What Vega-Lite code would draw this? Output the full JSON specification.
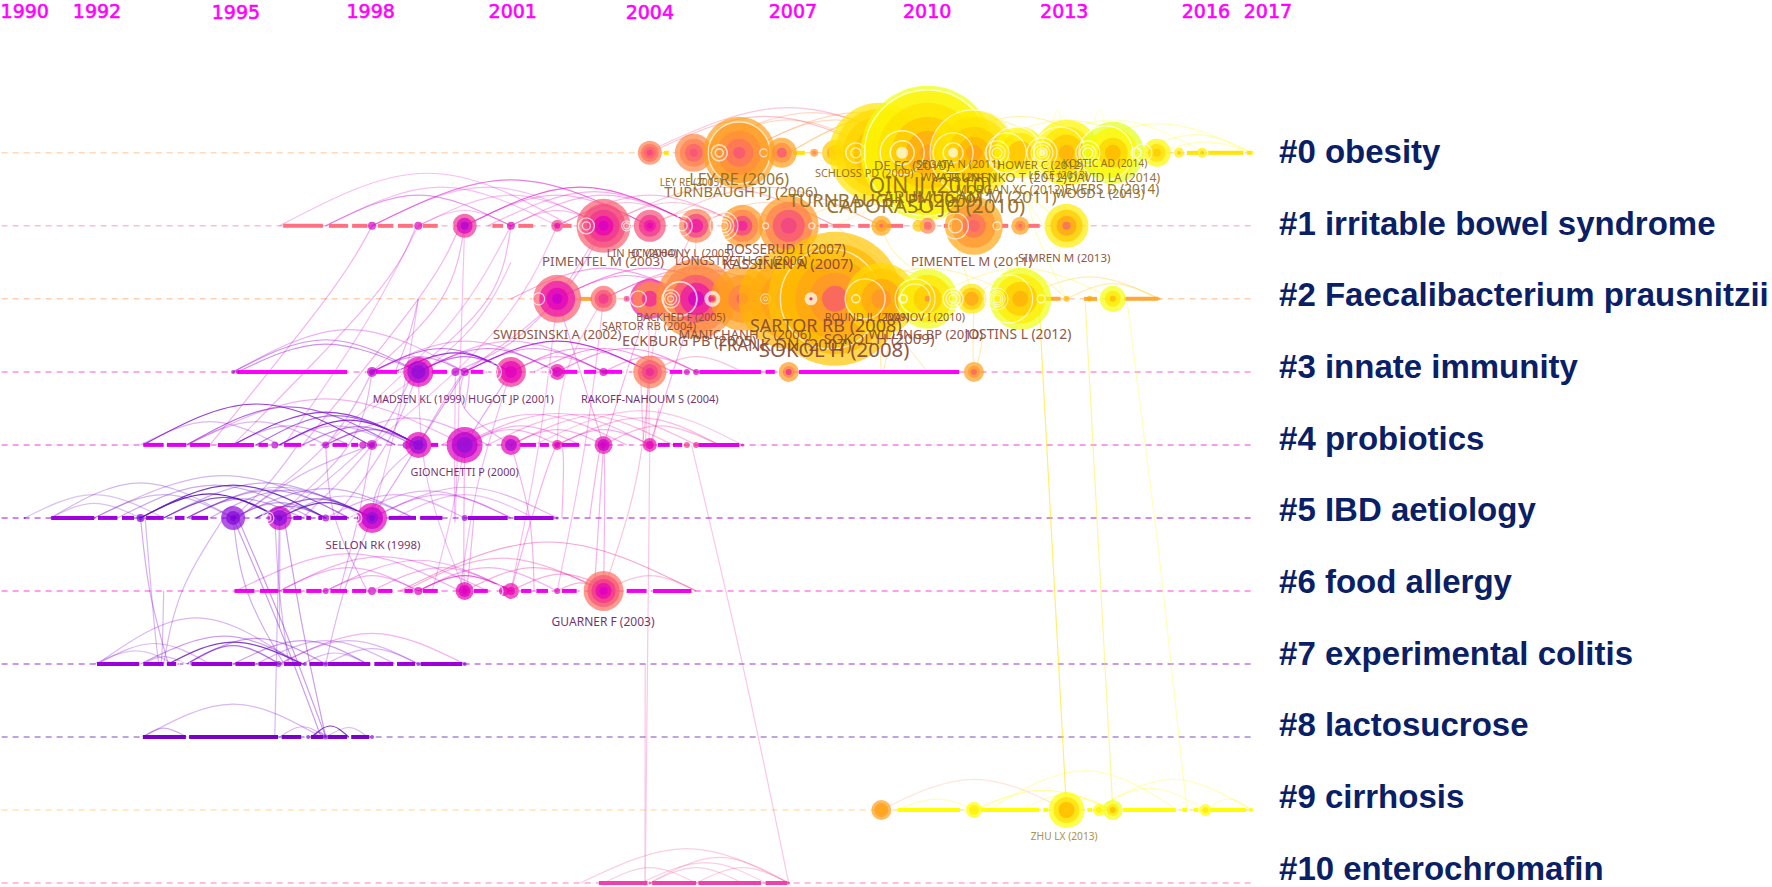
{"$schema":"https://vega.github.io/schema/vega-lite/v6.json","width":1772,"height":887,"padding":0,"autosize":{"type":"fit","contains":"padding"},"background":"#ffffff","config":{"view":{"stroke":null}},
"datasets":{
"lanes":[{"c":0,"x":1990,"x2":2017},{"c":1,"x":1990,"x2":2017},{"c":2,"x":1990,"x2":2017},{"c":3,"x":1990,"x2":2017},{"c":4,"x":1990,"x2":2017},{"c":5,"x":1990,"x2":2017},{"c":6,"x":1990,"x2":2017},{"c":7,"x":1990,"x2":2017},{"c":8,"x":1990,"x2":2017},{"c":9,"x":1990,"x2":2017},{"c":10,"x":1990,"x2":2017}],
"segs":[
{"c":0,"x":2004.3,"x2":2004.42},{"c":0,"x":2007.1,"x2":2007.35},{"c":0,"x":2015.6,"x2":2015.85},{"c":0,"x":2016.06,"x2":2016.82},{"c":0,"x":2016.9,"x2":2017},
{"c":1,"x":1996.08,"x2":1996.94},{"c":1,"x":1997.07,"x2":1997.48},{"c":1,"x":1997.57,"x2":1997.9},{"c":1,"x":1998.13,"x2":1998.46},{"c":1,"x":1998.56,"x2":1998.88},{"c":1,"x":1999.1,"x2":1999.42},{"c":1,"x":2000.6,"x2":2000.83},{"c":1,"x":2001.16,"x2":2001.48},{"c":1,"x":2002.12,"x2":2002.31},{"c":1,"x":2007.67,"x2":2007.85},{"c":1,"x":2007.95,"x2":2008.33},{"c":1,"x":2008.5,"x2":2008.75},{"c":1,"x":2009.12,"x2":2009.47},{"c":1,"x":2010.35,"x2":2010.45},{"c":1,"x":2011.56,"x2":2011.74},{"c":1,"x":2012.17,"x2":2012.42},
{"c":2,"x":2002.5,"x2":2002.75},{"c":2,"x":2012.08,"x2":2012.87},{"c":2,"x":2013.38,"x2":2013.66},{"c":2,"x":2014.25,"x2":2014.98},
{"c":3,"x":1995.1,"x2":1997.46},{"c":3,"x":1998.08,"x2":1998.54},{"c":3,"x":1999.3,"x2":1999.62},{"c":3,"x":2000.13,"x2":2000.42},{"c":3,"x":2002.1,"x2":2002.43},{"c":3,"x":2002.58,"x2":2002.84},{"c":3,"x":2003.03,"x2":2003.4},{"c":3,"x":2004.43,"x2":2004.7},{"c":3,"x":2005.07,"x2":2006.4},{"c":3,"x":2006.5,"x2":2006.7},{"c":3,"x":2007.22,"x2":2010.68},
{"c":4,"x":1993.06,"x2":1993.5},{"c":4,"x":1993.57,"x2":1993.99},{"c":4,"x":1994.07,"x2":1994.5},{"c":4,"x":1994.67,"x2":1995.45},{"c":4,"x":1995.55,"x2":1995.75},{"c":4,"x":1996.1,"x2":1996.47},{"c":4,"x":1997.15,"x2":1997.46},{"c":4,"x":1997.55,"x2":1997.7},{"c":4,"x":1999.27,"x2":1999.43},{"c":4,"x":2001.2,"x2":2001.54},{"c":4,"x":2001.62,"x2":2001.82},{"c":4,"x":2002.1,"x2":2002.47},{"c":4,"x":2004.17,"x2":2004.43},{"c":4,"x":2004.5,"x2":2004.7},{"c":4,"x":2005.05,"x2":2005.93},
{"c":5,"x":1991.07,"x2":1992},{"c":5,"x":1992.08,"x2":1992.5},{"c":5,"x":1992.6,"x2":1992.86},{"c":5,"x":1993.12,"x2":1993.5},{"c":5,"x":1993.74,"x2":1993.95},{"c":5,"x":1994.1,"x2":1994.46},{"c":5,"x":1996.3,"x2":1996.48},{"c":5,"x":1996.58,"x2":1996.68},{"c":5,"x":1996.84,"x2":1996.92},{"c":5,"x":1997.1,"x2":1997.46},{"c":5,"x":1998.36,"x2":1998.95},{"c":5,"x":1999.04,"x2":1999.52},{"c":5,"x":2000.07,"x2":2000.93},{"c":5,"x":2001.07,"x2":2001.92},
{"c":6,"x":1995.03,"x2":1995.46},{"c":6,"x":1995.58,"x2":1995.98},{"c":6,"x":1996.08,"x2":1996.47},{"c":6,"x":1996.58,"x2":1996.91},{"c":6,"x":1997.1,"x2":1997.46},{"c":6,"x":1997.57,"x2":1997.87},{"c":6,"x":1998.13,"x2":1998.44},{"c":6,"x":1998.7,"x2":1998.88},{"c":6,"x":1999.1,"x2":1999.42},{"c":6,"x":2000.2,"x2":2000.5},{"c":6,"x":2001.22,"x2":2001.44},{"c":6,"x":2001.55,"x2":2001.8},{"c":6,"x":2002.1,"x2":2002.42},{"c":6,"x":2003.5,"x2":2003.93},{"c":6,"x":2004.07,"x2":2004.9},
{"c":7,"x":1992.06,"x2":1992.97},{"c":7,"x":1993.06,"x2":1993.5},{"c":7,"x":1993.57,"x2":1993.77},{"c":7,"x":1994.1,"x2":1994.98},{"c":7,"x":1995.05,"x2":1995.47},{"c":7,"x":1995.55,"x2":1995.95},{"c":7,"x":1996.1,"x2":1996.47},{"c":7,"x":1996.65,"x2":1996.95},{"c":7,"x":1997.05,"x2":1997.96},{"c":7,"x":1998.05,"x2":1998.46},{"c":7,"x":1998.54,"x2":1998.93},{"c":7,"x":1999.05,"x2":1999.95},
{"c":8,"x":1993.05,"x2":1993.98},{"c":8,"x":1994.05,"x2":1995.97},{"c":8,"x":1996.05,"x2":1996.47},{"c":8,"x":1996.68,"x2":1996.95},{"c":8,"x":1997.05,"x2":1997.46},{"c":8,"x":1997.55,"x2":1997.94},
{"c":9,"x":2009.36,"x2":2010.7},{"c":9,"x":2011.15,"x2":2012.41},{"c":9,"x":2012.5,"x2":2012.6},{"c":9,"x":2013.45,"x2":2013.55},{"c":9,"x":2014.22,"x2":2015.36},{"c":9,"x":2015.5,"x2":2015.6},{"c":9,"x":2015.75,"x2":2015.85},{"c":9,"x":2016.1,"x2":2016.88},{"c":9,"x":2016.95,"x2":2017},
{"c":10,"x":2002.9,"x2":2003.95},{"c":10,"x":2004.05,"x2":2005},{"c":10,"x":2005.05,"x2":2006.4},{"c":10,"x":2006.5,"x2":2006.97}],
"arcs":[
{"a":1,"t":1993,"w":0.25,"x":[1990.5,1992,1993.5],"c":[5,4.68,5]},{"a":2,"t":1993,"w":0.3,"x":[1991.06,1993,1995],"c":[5,4.52,5]},{"a":3,"t":1993,"w":0.25,"x":[1991.06,1992,1993],"c":[5,4.8,5]},{"a":4,"t":1991,"w":0.9,"x":[1993,1994.5,1996],"c":[5,4.67,5]},{"a":5,"t":1991,"w":0.7,"x":[1993.5,1994.8,1996],"c":[5,4.72,5]},{"a":6,"t":1991,"w":0.8,"x":[1993,1995,1997],"c":[5,4.55,5]},{"a":7,"t":1993,"w":0.4,"x":[1994,1995.8,1997.5],"c":[5,4.62,5]},{"a":8,"t":1993,"w":0.35,"x":[1994.5,1996.2,1998],"c":[5,4.62,5]},{"a":9,"t":1993,"w":0.3,"x":[1992,1993.5,1995],"c":[5,4.68,5]},{"a":10,"t":1993,"w":0.35,"x":[1992.5,1994.6,1996.7],"c":[5,4.55,5]},{"a":11,"t":1993,"w":0.35,"x":[1993.5,1995.7,1997.9],"c":[5,4.52,5]},{"a":12,"t":1992,"w":0.6,"x":[1995.5,1996.8,1998],"c":[5,4.74,5]},{"a":13,"t":1991,"w":0.8,"x":[1996,1997,1998],"c":[5,4.79,5]},{"a":14,"t":1994,"w":0.35,"x":[1995,1997,1998.9],"c":[5,4.6,5]},{"a":15,"t":1994,"w":0.3,"x":[1996,1997.4,1998.9],"c":[5,4.7,5]},{"a":16,"t":1998,"w":0.3,"x":[1997,1998.5,2000],"c":[5,4.68,5]},{"a":17,"t":1998,"w":0.3,"x":[1998,2000,2002],"c":[5,4.58,5]},{"a":18,"t":1998,"w":0.3,"x":[1998,1999.5,2001],"c":[5,4.68,5]},{"a":19,"t":1998,"w":0.25,"x":[1998.5,2000,2001.5],"c":[5,4.68,5]},{"a":20,"t":1998,"w":0.3,"x":[1997.5,1999.2,2001],"c":[5,4.63,5]},{"a":21,"t":1993,"w":0.3,"x":[1994,1996,1998],"c":[5,4.58,5]},{"a":22,"t":1993,"w":0.3,"x":[1992,1994.8,1997.5],"c":[5,4.42,5]},{"a":23,"t":1993,"w":0.4,"x":[1994,1995.2,1996.5],"c":[5,4.74,5]},{"a":24,"t":1993,"w":0.4,"x":[1995,1996,1997],"c":[5,4.79,5]},{"a":25,"t":1992,"w":0.5,"x":[1995.5,1996.2,1997],"c":[5,4.84,5]},
{"a":30,"t":1994,"w":0.8,"x":[1993.06,1995.5,1997.95],"c":[4,3.44,4]},{"a":31,"t":1994,"w":0.6,"x":[1994,1996.2,1998.5],"c":[4,3.48,4]},{"a":32,"t":1994,"w":0.8,"x":[1995,1997,1999],"c":[4,3.55,4]},{"a":33,"t":1994,"w":0.6,"x":[1995.5,1997.2,1999],"c":[4,3.6,4]},{"a":34,"t":1994,"w":0.85,"x":[1996,1997.5,1999],"c":[4,3.66,4]},{"a":35,"t":1995,"w":0.5,"x":[1996.5,1997.7,1998.9],"c":[4,3.75,4]},{"a":36,"t":1995,"w":0.5,"x":[1997,1998,1999],"c":[4,3.79,4]},{"a":37,"t":1996,"w":0.3,"x":[1993,1994.5,1996],"c":[4,3.68,4]},{"a":38,"t":1996,"w":0.3,"x":[1994,1995.5,1997],"c":[4,3.68,4]},{"a":39,"t":1996,"w":0.3,"x":[1996,1997.2,1998.5],"c":[4,3.74,4]},{"a":40,"t":1996,"w":0.35,"x":[1995,1996.2,1997.5],"c":[4,3.74,4]},{"a":41,"t":1998,"w":0.3,"x":[1997,1998.8,2000.5],"c":[4,3.63,4]},{"a":42,"t":2001,"w":0.3,"x":[1999.5,2001.5,2003.5],"c":[4,3.58,4]},{"a":43,"t":2001,"w":0.3,"x":[1999.9,2002,2004],"c":[4,3.57,4]},{"a":44,"t":2002,"w":0.3,"x":[2000.5,2002.5,2004.5],"c":[4,3.58,4]},{"a":45,"t":2002,"w":0.3,"x":[2001,2003,2005],"c":[4,3.58,4]},{"a":46,"t":2002,"w":0.25,"x":[2001.5,2003.8,2006],"c":[4,3.53,4]},{"a":47,"t":2002,"w":0.3,"x":[2002,2003.8,2005.5],"c":[4,3.63,4]},{"a":48,"t":2002,"w":0.3,"x":[2003,2004.2,2005.5],"c":[4,3.74,4]},{"a":49,"t":2001,"w":0.3,"x":[2000,2001,2002],"c":[4,3.79,4]},{"a":50,"t":2001,"w":0.3,"x":[2000,2001.2,2002.5],"c":[4,3.74,4]},{"a":51,"t":2001,"w":0.3,"x":[2001,2002,2003],"c":[4,3.79,4]},{"a":52,"t":2001,"w":0.3,"x":[2002,2003,2004],"c":[4,3.79,4]},{"a":53,"t":2000,"w":0.3,"x":[1994,1997,2000],"c":[4,3.37,4]},
{"a":60,"t":1999,"w":0.3,"x":[1995,1997.5,2000],"c":[3,2.42,3]},{"a":61,"t":1997,"w":0.45,"x":[1995,1997,1999],"c":[3,2.56,3]},{"a":62,"t":1996,"w":0.45,"x":[1995.1,1997,1999],"c":[3,2.62,3]},{"a":63,"t":1998,"w":0.4,"x":[1998,1999,2000],"c":[3,2.79,3]},{"a":64,"t":1997,"w":0.6,"x":[1998,1999.5,2001],"c":[3,2.68,3]},{"a":65,"t":1996,"w":0.85,"x":[1998.5,1999.8,2001],"c":[3,2.74,3]},{"a":66,"t":1997,"w":0.6,"x":[1999,2000,2001],"c":[3,2.79,3]},{"a":67,"t":1998,"w":0.5,"x":[1999,2000.5,2002],"c":[3,2.68,3]},{"a":68,"t":1998,"w":0.4,"x":[2000,2001.5,2003],"c":[3,2.68,3]},{"a":69,"t":1998,"w":0.8,"x":[2000,2002,2004],"c":[3,2.58,3]},{"a":70,"t":2000,"w":0.4,"x":[2001,2002.5,2004],"c":[3,2.68,3]},{"a":71,"t":2001,"w":0.4,"x":[2001.5,2003,2004.5],"c":[3,2.68,3]},{"a":72,"t":2001,"w":0.4,"x":[2002,2003.5,2005],"c":[3,2.68,3]},{"a":73,"t":2002,"w":0.35,"x":[2003,2004,2005],"c":[3,2.79,3]},{"a":74,"t":2000,"w":0.3,"x":[1999,2001,2003],"c":[3,2.58,3]},{"a":75,"t":2000,"w":0.3,"x":[1998,2000,2002],"c":[3,2.58,3]},{"a":76,"t":2001,"w":0.3,"x":[2001,2002,2003],"c":[3,2.79,3]},{"a":77,"t":2003,"w":0.3,"x":[2004,2005,2006],"c":[3,2.79,3]},
{"a":80,"t":2000,"w":0.3,"x":[1995.05,1997.5,1999.9],"c":[6,5.49,6]},{"a":81,"t":2000,"w":0.3,"x":[1996,1998.2,2000.5],"c":[6,5.53,6]},{"a":82,"t":2000,"w":0.3,"x":[1997,1999,2001],"c":[6,5.58,6]},{"a":83,"t":2000,"w":0.3,"x":[1998,1999.5,2001],"c":[6,5.68,6]},{"a":84,"t":2000,"w":0.3,"x":[1999,2000.5,2002],"c":[6,5.68,6]},{"a":85,"t":2001,"w":0.6,"x":[1999,2000,2001],"c":[6,5.79,6]},{"a":86,"t":2002.6,"w":0.45,"x":[1998.6,2001.8,2005],"c":[6,5.33,6]},{"a":87,"t":2002.6,"w":0.35,"x":[1998.7,2000.8,2003],"c":[6,5.55,6]},{"a":88,"t":2002,"w":0.35,"x":[2000,2001.5,2003],"c":[6,5.68,6]},{"a":89,"t":2002,"w":0.35,"x":[2001,2002.1,2003.2],"c":[6,5.77,6]},{"a":90,"t":2002,"w":0.35,"x":[2002,2002.5,2003],"c":[6,5.89,6]},{"a":91,"t":2000,"w":0.3,"x":[1996,1997.5,1999],"c":[6,5.68,6]},{"a":92,"t":2000,"w":0.3,"x":[1997,1998,1999],"c":[6,5.79,6]},{"a":93,"t":2003,"w":0.3,"x":[2003,2004,2005],"c":[6,5.79,6]},
{"a":100,"t":1995,"w":0.3,"x":[1992.07,1994.2,1996.4],"c":[7,6.37,7]},{"a":101,"t":1995,"w":0.3,"x":[1992.07,1993.3,1994.5],"c":[7,6.72,7]},{"a":102,"t":1995,"w":0.3,"x":[1993.06,1993.5,1994],"c":[7,6.9,7]},{"a":103,"t":1995,"w":0.4,"x":[1993,1994.8,1996.5],"c":[7,6.62,7]},{"a":104,"t":1992,"w":0.8,"x":[1993.6,1995,1996.5],"c":[7,6.7,7]},{"a":105,"t":1994,"w":0.6,"x":[1994,1995,1996],"c":[7,6.75,7]},{"a":106,"t":1994,"w":0.4,"x":[1994,1995.5,1997],"c":[7,6.65,7]},{"a":107,"t":1995,"w":0.4,"x":[1995,1996.5,1997.9],"c":[7,6.68,7]},{"a":108,"t":1995,"w":0.3,"x":[1996.5,1997.2,1997.9],"c":[7,6.85,7]},{"a":109,"t":1995,"w":0.3,"x":[1995.5,1997,1998.5],"c":[7,6.68,7]},{"a":110,"t":2000,"w":0.3,"x":[1996,1998,2000],"c":[7,6.58,7]},{"a":111,"t":1996,"w":0.3,"x":[1996,1997.5,1999],"c":[7,6.68,7]},{"a":112,"t":1996,"w":0.3,"x":[1997,1998,1999],"c":[7,6.79,7]},{"a":113,"t":1995,"w":0.25,"x":[1992,1992.9,1993.7],"c":[7,6.82,7]},
{"a":120,"t":1995,"w":0.3,"x":[1993.05,1995,1996.9],"c":[8,7.55,8]},{"a":121,"t":1995,"w":0.35,"x":[1993.05,1993.5,1994],"c":[8,7.88,8]},{"a":122,"t":1995,"w":0.3,"x":[1996,1996.5,1997],"c":[8,7.86,8]},{"a":123,"t":1992,"w":0.8,"x":[1996.7,1997.1,1997.5],"c":[8,7.85,8]},{"a":124,"t":1994,"w":0.4,"x":[1996.7,1996.85,1997],"c":[8,7.93,8]},{"a":125,"t":1995,"w":0.3,"x":[1997,1997.5,1997.9],"c":[8,7.87,8]},
{"a":130,"t":2000,"w":0.25,"x":[1996,1999.2,2002.3],"c":[1,0.28,1]},{"a":131,"t":2000,"w":0.25,"x":[1997,1999.5,2002],"c":[1,0.47,1]},{"a":132,"t":1999,"w":0.4,"x":[1997,1999,2001],"c":[1,0.58,1]},{"a":133,"t":2000,"w":0.25,"x":[1998,2000.5,2003],"c":[1,0.47,1]},{"a":134,"t":2000,"w":0.5,"x":[1998,2001,2004],"c":[1,0.37,1]},{"a":135,"t":2000,"w":0.25,"x":[1999,2000,2001],"c":[1,0.79,1]},{"a":136,"t":2000.5,"w":0.6,"x":[2000,2002.5,2005],"c":[1,0.47,1]},{"a":137,"t":2001,"w":0.3,"x":[2000,2002,2004],"c":[1,0.58,1]},{"a":138,"t":2001,"w":0.3,"x":[2000.5,2002.8,2005],"c":[1,0.53,1]},{"a":139,"t":2001,"w":0.3,"x":[2001,2002,2003],"c":[1,0.79,1]},{"a":140,"t":2001,"w":0.3,"x":[2001,2003,2005],"c":[1,0.58,1]},{"a":141,"t":2002,"w":0.3,"x":[2002,2003.5,2005],"c":[1,0.68,1]},{"a":142,"t":2002,"w":0.3,"x":[2002,2004,2006],"c":[1,0.58,1]},{"a":143,"t":2003,"w":0.3,"x":[2003,2004.5,2006],"c":[1,0.68,1]},{"a":144,"t":2004,"w":0.3,"x":[2004,2005,2006],"c":[1,0.79,1]},{"a":145,"t":2004,"w":0.3,"x":[2005,2006,2007],"c":[1,0.79,1]},{"a":146,"t":2005,"w":0.3,"x":[2005,2006.5,2008],"c":[1,0.68,1]},{"a":147,"t":2006,"w":0.25,"x":[2006,2007.5,2009],"c":[1,0.68,1]},{"a":148,"t":2008,"w":0.25,"x":[2007,2008.5,2010],"c":[1,0.68,1]},{"a":149,"t":2010,"w":0.25,"x":[2008,2009.5,2011],"c":[1,0.68,1]},{"a":150,"t":2003,"w":0.3,"x":[2003,2005.5,2008],"c":[1,0.47,1]},{"a":151,"t":2004,"w":0.3,"x":[2004,2006.5,2009],"c":[1,0.47,1]},{"a":152,"t":2000,"w":0.25,"x":[1999,2001,2003],"c":[1,0.58,1]},
{"a":160,"t":2003.6,"w":0.35,"x":[2004,2006.5,2009],"c":[0,-0.5,0]},{"a":161,"t":2005,"w":0.3,"x":[2005,2007.5,2010],"c":[0,-0.55,0]},{"a":162,"t":2005,"w":0.3,"x":[2005,2007,2009],"c":[0,-0.45,0]},{"a":163,"t":2005.5,"w":0.3,"x":[2006,2008,2010],"c":[0,-0.45,0]},{"a":164,"t":2005.5,"w":0.3,"x":[2006,2008.5,2011],"c":[0,-0.55,0]},{"a":165,"t":2006,"w":0.3,"x":[2007,2009,2011],"c":[0,-0.5,0]},{"a":166,"t":2006,"w":0.3,"x":[2007,2009.5,2012],"c":[0,-0.6,0]},{"a":167,"t":2008,"w":0.3,"x":[2008,2010,2012],"c":[0,-0.5,0]},{"a":168,"t":2010,"w":0.3,"x":[2009,2011,2013],"c":[0,-0.5,0]},{"a":169,"t":2010,"w":0.3,"x":[2010,2012,2014],"c":[0,-0.5,0]},{"a":170,"t":2011,"w":0.3,"x":[2011,2013,2015],"c":[0,-0.45,0]},{"a":171,"t":2012,"w":0.3,"x":[2012,2014,2016],"c":[0,-0.45,0]},{"a":172,"t":2012,"w":0.35,"x":[2013,2015,2017],"c":[0,-0.4,0]},{"a":173,"t":2012,"w":0.35,"x":[2014.5,2015.8,2017],"c":[0,-0.25,0]},{"a":174,"t":2012,"w":0.35,"x":[2015,2016,2017],"c":[0,-0.15,0]},{"a":175,"t":2003.2,"w":0.3,"x":[2003.9,2007,2010],"c":[0,-0.62,0]},
{"a":180,"t":2001,"w":0.4,"x":[2002,2003.5,2005],"c":[2,1.68,2]},{"a":181,"t":2001,"w":0.4,"x":[2002,2004,2006],"c":[2,1.58,2]},{"a":182,"t":2001,"w":0.35,"x":[2001,2003,2005],"c":[2,1.58,2]},{"a":183,"t":2002,"w":0.35,"x":[2003,2004.5,2006],"c":[2,1.68,2]},{"a":184,"t":2002,"w":0.35,"x":[2003,2005,2007],"c":[2,1.58,2]},{"a":185,"t":2003.5,"w":0.3,"x":[2004,2006,2008],"c":[2,1.58,2]},{"a":186,"t":2004,"w":0.3,"x":[2005,2007,2009],"c":[2,1.58,2]},{"a":187,"t":2006,"w":0.25,"x":[2006,2008,2010],"c":[2,1.58,2]},{"a":188,"t":2008,"w":0.25,"x":[2007,2009,2011],"c":[2,1.58,2]},{"a":189,"t":2010,"w":0.25,"x":[2008,2010,2012],"c":[2,1.58,2]},{"a":190,"t":2011,"w":0.3,"x":[2010,2012,2014],"c":[2,1.58,2]},{"a":191,"t":2009,"w":0.3,"x":[2012,2013.5,2015],"c":[2,1.7,2]},{"a":192,"t":2009,"w":0.3,"x":[2013,2014,2015],"c":[2,1.79,2]},{"a":193,"t":2010,"w":0.25,"x":[2011,2012,2013],"c":[2,1.6,2]},
{"a":200,"t":2005,"w":0.2,"x":[2009,2011,2013],"c":[9,8.58,9]},{"a":201,"t":2012,"w":0.5,"x":[2011,2012.5,2014],"c":[9,8.73,9]},{"a":202,"t":2012,"w":0.3,"x":[2011.3,2013.4,2015.4],"c":[9,8.46,9]},{"a":203,"t":2012,"w":0.3,"x":[2012,2013,2014],"c":[9,8.79,9]},{"a":204,"t":2012,"w":0.3,"x":[2013.6,2015.3,2017],"c":[9,8.58,9]},{"a":205,"t":2012,"w":0.3,"x":[2013.6,2014.8,2016],"c":[9,8.7,9]},{"a":206,"t":2012,"w":0.3,"x":[2016,2016.5,2017],"c":[9,8.85,9]},{"a":207,"t":2012,"w":0.35,"x":[2009.3,2010.2,2011],"c":[9,8.85,9]},
{"a":210,"t":2003,"w":0.25,"x":[2004,2005.5,2007],"c":[10,9.65,10]},{"a":211,"t":2003,"w":0.25,"x":[2002.5,2004.8,2007],"c":[10,9.53,10]},{"a":212,"t":2003,"w":0.25,"x":[2004,2005,2006],"c":[10,9.79,10]},{"a":213,"t":2003,"w":0.25,"x":[2003,2004,2005],"c":[10,9.79,10]},{"a":214,"t":2003,"w":0.25,"x":[2005,2006,2007],"c":[10,9.79,10]},{"a":215,"t":2003,"w":0.25,"x":[2003.8,2005.2,2006.5],"c":[10,9.72,10]},
{"a":300,"t":2010.5,"w":0.6,"x":[2012.4,2012.7,2013],"c":[2,5.5,9]},{"a":301,"t":2011,"w":0.45,"x":[2013.4,2013.7,2014],"c":[2,5.5,9]},{"a":302,"t":2012,"w":0.35,"x":[2014.3,2015,2015.6],"c":[2,5.5,9]},{"a":303,"t":2012,"w":0.3,"x":[2012.5,2012.8,2013.1],"c":[0.6,-0.58,0.6]},{"a":304,"t":2012,"w":0.25,"x":[2013.4,2013.7,2014.1],"c":[0.6,-0.58,0.6]},
{"a":310,"t":2002,"w":0.25,"x":[2004,2003.9,2003.9],"c":[4,7,10]},{"a":311,"t":2002,"w":0.25,"x":[2004.9,2006,2007],"c":[4,7,10]},{"a":312,"t":1995,"w":0.35,"x":[1993,1993.2,1993.6],"c":[5,6,7]},{"a":313,"t":1995,"w":0.3,"x":[1993.1,1993.5,1993.4],"c":[5,6,7]},{"a":314,"t":1994,"w":0.35,"x":[1995,1995.3,1996.1],"c":[5,6,7]},{"a":315,"t":1994,"w":0.4,"x":[1995,1996,1996.9],"c":[5,6.5,8]},{"a":316,"t":1994,"w":0.4,"x":[1995.1,1996.1,1997],"c":[5,6.5,8]},{"a":317,"t":1995,"w":0.3,"x":[1995.9,1996,1996.2],"c":[5,6,7]},{"a":318,"t":1994,"w":0.4,"x":[1996.1,1996.5,1997],"c":[5,6.5,8]},{"a":319,"t":1995,"w":0.3,"x":[1994.8,1993.9,1993.5],"c":[5,6,7]},{"a":320,"t":1995,"w":0.3,"x":[1996,1996,1995.9],"c":[5,6.5,8]},{"a":321,"t":1996,"w":0.3,"x":[1998,1997.4,1997],"c":[5,6,7]},
{"a":330,"t":1996,"w":0.3,"x":[1996.4,1995.8,1995],"c":[4,4.5,5]},{"a":331,"t":1996,"w":0.3,"x":[1997.9,1997,1996],"c":[4,4.5,5]},{"a":332,"t":1998,"w":0.3,"x":[1999,1998.2,1998],"c":[4,4.5,5]},{"a":333,"t":1996,"w":0.3,"x":[1998,1996.5,1995.1],"c":[4,4.4,5]},{"a":334,"t":1998,"w":0.3,"x":[1998,1997.5,1995.9],"c":[3,4,5]},{"a":335,"t":1998,"w":0.3,"x":[1998.9,1998,1996.5],"c":[3,4,5]},{"a":336,"t":1998,"w":0.35,"x":[2000,1999,1998],"c":[3,4,5]},{"a":337,"t":1999,"w":0.35,"x":[2001,2000.5,2000],"c":[3,3.5,4]},{"a":338,"t":1999,"w":0.3,"x":[2000,2000,2001],"c":[3,3.5,4]},{"a":339,"t":2000,"w":0.3,"x":[1999.9,1999,1996.5],"c":[1,2,4]},{"a":340,"t":2000,"w":0.3,"x":[1998.95,1998,1995],"c":[1,2,4]},{"a":341,"t":2000,"w":0.3,"x":[1998,1997,1994.5],"c":[1,2,4]},{"a":342,"t":2000,"w":0.3,"x":[2000,1999.5,1998],"c":[1,2,3]},{"a":343,"t":2000,"w":0.3,"x":[2001,2000.5,1998.9],"c":[1,2,3]},{"a":344,"t":2001,"w":0.3,"x":[2003,2002,2000],"c":[1,2,3]},{"a":345,"t":2002,"w":0.3,"x":[2003,2002.5,2002],"c":[1,1.5,2]},{"a":346,"t":2004,"w":0.25,"x":[2005,2005.2,2005],"c":[1,1.5,2]},{"a":347,"t":2006,"w":0.25,"x":[2007,2007.3,2008],"c":[1,1.5,2]},{"a":348,"t":2010,"w":0.25,"x":[2009,2009.5,2011],"c":[1,1.5,2]},{"a":349,"t":2001,"w":0.3,"x":[2000,2000.2,2000],"c":[4,5,6]},{"a":350,"t":2001,"w":0.3,"x":[2001,2001.4,2001.5],"c":[4,5,6]},{"a":351,"t":2001,"w":0.3,"x":[2003,2002.7,2003],"c":[4,5,6]},{"a":352,"t":2001,"w":0.3,"x":[2002,2002.1,2001],"c":[4,5,6]},{"a":353,"t":2003,"w":0.3,"x":[2004,2003.7,2003],"c":[3,4.5,6]},{"a":354,"t":2000,"w":0.3,"x":[2002,2002.5,2003],"c":[2,3,4]},{"a":355,"t":2001,"w":0.3,"x":[2004,2003.5,2003],"c":[2,3,4]},{"a":356,"t":2001,"w":0.3,"x":[2005,2004.5,2004],"c":[2,3,4]},{"a":357,"t":2011,"w":0.3,"x":[2011,2012,2013],"c":[0,0.5,1]},{"a":358,"t":2011,"w":0.3,"x":[2010,2010.5,2011],"c":[0,1,2]},{"a":359,"t":2012,"w":0.3,"x":[2012,2012.3,2013],"c":[0,1,2]},{"a":360,"t":2001,"w":0.3,"x":[2003,2002.9,2002.8],"c":[4,5,6]},{"a":361,"t":2009,"w":0.3,"x":[2009,2009.2,2009],"c":[2,2.5,3]},{"a":362,"t":2009,"w":0.3,"x":[2011,2011.2,2011],"c":[2,2.5,3]},{"a":363,"t":1999,"w":0.3,"x":[2000,2000,1999],"c":[3,3.5,4]},{"a":364,"t":1999,"w":0.3,"x":[1999,1998.8,1998.5],"c":[2,2.5,3]},{"a":365,"t":1999,"w":0.3,"x":[2002,2001,1999.8],"c":[2,2.6,3]},
{"a":370,"t":2000,"w":0.25,"x":[1999,1997.8,1996.1],"c":[1,2.4,4]},{"a":371,"t":2000,"w":0.25,"x":[2001,1999.6,1997],"c":[1,2.4,4]},{"a":372,"t":2001,"w":0.25,"x":[2002,2000.7,1998],"c":[1,2.4,4]},{"a":373,"t":2000,"w":0.25,"x":[2000,1999.8,1999.8],"c":[1,3,5]},{"a":374,"t":1999,"w":0.25,"x":[1999,1998.6,1998],"c":[2,3.5,5]},{"a":375,"t":1998,"w":0.3,"x":[1999,1998.3,1997.2],"c":[3,4,5]},{"a":376,"t":1998,"w":0.3,"x":[1998,1997,1995.1],"c":[3,4,5]},{"a":377,"t":1999,"w":0.25,"x":[2001,2000.3,1999.9],"c":[3,4.5,6]},{"a":378,"t":1999,"w":0.25,"x":[1999,1999.2,2000],"c":[3,4.5,6]},{"a":379,"t":2001,"w":0.25,"x":[2002,2001.6,2001],"c":[2,4,6]},{"a":380,"t":2001,"w":0.25,"x":[2003,2002.6,2002],"c":[2,4,6]},{"a":381,"t":2002,"w":0.25,"x":[2005,2004.3,2004],"c":[1,2,3]},{"a":382,"t":2002,"w":0.25,"x":[2004,2003.8,2003.9],"c":[2,3,4]},{"a":383,"t":2002,"w":0.25,"x":[2003,2002.2,2002],"c":[2,3,4]},{"a":384,"t":2002,"w":0.25,"x":[2004,2004.2,2004],"c":[3,3.5,4]},{"a":385,"t":2004,"w":0.2,"x":[2006,2005.7,2005],"c":[1,1.5,2]},{"a":386,"t":2007,"w":0.2,"x":[2008,2009,2009.8],"c":[1,1.5,2]},{"a":387,"t":2007,"w":0.2,"x":[2009,2009.4,2010],"c":[2,2.5,3]},{"a":388,"t":2008,"w":0.25,"x":[2011,2010.5,2010],"c":[0,0.5,1]},{"a":389,"t":2011,"w":0.2,"x":[2012,2012.5,2013],"c":[0.5,1,1.5]},{"a":390,"t":2000,"w":0.25,"x":[2000,1999.7,1999.3],"c":[4,5,6]},{"a":391,"t":1999,"w":0.3,"x":[1998,1997.7,1997.3],"c":[4,5,6]},{"a":392,"t":1998,"w":0.3,"x":[1997,1997.2,1997.9],"c":[4,5,6]},{"a":393,"t":1999,"w":0.25,"x":[2001,2000,1998],"c":[1.5,2.5,3.5]}],
"nodes":[
{"c":0,"x":2004,"r":[12,9,6,3],"t":[2005,2004.5,2004,2003]},{"c":0,"x":2004.5,"r":[4],"t":[0],"w":1.2},
{"c":0,"x":2004.95,"r":[19,14,9,4],"t":[2005.3,2005,2004,2003.5]},{"c":0,"x":2005.93,"r":[36,30,22,14,6],"t":[2006.5,2006,2005.5,2004.5,2003.5]},{"c":0,"x":2005.93,"r":[31],"t":[0],"w":1.2},{"c":0,"x":2005.5,"r":[8,4],"t":[0,0],"w":1.6},{"c":0,"x":2006.46,"r":[4],"t":[0],"w":1.3},
{"c":0,"x":2006.85,"r":[15,10,5],"t":[2006.5,2005.5,2003.5]},{"c":0,"x":2007.55,"r":[4,2],"t":[2006,2005]},
{"c":0,"x":2008,"r":[13,8,3],"t":[2009,2007,2006]},{"c":0,"x":2008.95,"r":[50,44,36,25,14],"t":[2010.5,2010,2009.5,2008.5,2007]},{"c":0,"x":2008.45,"r":[10,5],"t":[0,0],"w":1.3},
{"c":0,"x":2010,"r":[67,62,50,36,22,8],"t":[2012.8,2011.2,2010.2,2008.8,2007,2006]},{"c":0,"x":2010,"r":[63],"t":[0],"w":1.4},{"c":0,"x":2009.45,"r":[22,12],"t":[0,0],"w":1.5},{"c":0,"x":2009.45,"r":[3],"t":[0],"w":6},
{"c":0,"x":2011,"r":[43,36,26,16,8],"t":[2011,2010.3,2009.2,2008,2006.5]},{"c":0,"x":2010.98,"r":[43],"t":[0],"w":1.3},{"c":0,"x":2010.55,"r":[20,10],"t":[0,0],"w":1.3},{"c":0,"x":2010.55,"r":[2.5],"t":[0],"w":5},
{"c":0,"x":2012,"r":[26,20,12],"t":[2011.5,2010.5,2008.5]},{"c":0,"x":2011.9,"r":[26],"t":[0],"w":1.3},{"c":0,"x":2011.7,"r":[20],"t":[0],"w":1.2},{"c":0,"x":2011.5,"r":[12,8,5],"t":[0,0,0],"w":1.2},
{"c":0,"x":2013,"r":[33,26,18,8],"t":[2011.5,2010.5,2009,2007.5]},{"c":0,"x":2012.85,"r":[26],"t":[0],"w":1.3},{"c":0,"x":2012.47,"r":[15,11,8,5],"t":[0,0,0,0],"w":1.2},{"c":0,"x":2012.47,"r":[2],"t":[0],"w":3},
{"c":0,"x":2014,"r":[31,25,15,8],"t":[2013.5,2011.5,2009.5,2008]},{"c":0,"x":2013.85,"r":[27],"t":[0],"w":1.3},{"c":0,"x":2013.46,"r":[12,8,5],"t":[0,0,0],"w":1.3},
{"c":0,"x":2014.95,"r":[14,9,4],"t":[2011.5,2010,2009]},{"c":0,"x":2014.5,"r":[5],"t":[0],"w":1.2},{"c":0,"x":2014.65,"r":[9],"t":[0],"w":1.2},{"c":0,"x":2015.43,"r":[5,2],"t":[2011,2009]},{"c":0,"x":2015.93,"r":[5,2],"t":[2011,2009]},{"c":0,"x":2017,"r":[2],"t":[2011]},
{"c":1,"x":1998,"r":[4],"t":[2000]},{"c":1,"x":1999,"r":[4],"t":[2000.5]},{"c":1,"x":2000,"r":[12,8,4],"t":[2002.5,2000,1998]},{"c":1,"x":1999.6,"r":[7],"t":[0],"w":1.2},{"c":1,"x":2001,"r":[4],"t":[2000.5]},{"c":1,"x":2002,"r":[6,3],"t":[2003,2001]},
{"c":1,"x":2003,"r":[27,22,16,10,5],"t":[2004,2003.3,2002.5,2001,2000]},{"c":1,"x":2002.63,"r":[8,4],"t":[0,0],"w":1.4},{"c":1,"x":2003.5,"r":[5,3],"t":[0,0],"w":1.3},{"c":1,"x":2004,"r":[16,11,6,3],"t":[2003.5,2002.5,2001.5,2001]},
{"c":1,"x":2005,"r":[17,12,7],"t":[2005,2003,2001.5]},{"c":1,"x":2004.7,"r":[10,5],"t":[0,0],"w":1.3},{"c":1,"x":2006,"r":[21,16,10,5],"t":[2006,2005,2003,2001.8]},{"c":1,"x":2005.6,"r":[14,10,7,4],"t":[0,0,0,0],"w":1.2},
{"c":1,"x":2007,"r":[30,24,16,8],"t":[2006,2005,2003.5,2003]},{"c":1,"x":2006.5,"r":[3],"t":[0],"w":1.3},{"c":1,"x":2007.5,"r":[3],"t":[0],"w":1.3},
{"c":1,"x":2009,"r":[10,6,2],"t":[2007,2006,2004]},{"c":1,"x":2010,"r":[8,4],"t":[2005,2004]},{"c":1,"x":2009.8,"r":[6],"t":[2009]},
{"c":1,"x":2011,"r":[29,22,12,6],"t":[2007,2005.8,2004.5,2004]},{"c":1,"x":2010.6,"r":[13,7],"t":[0,0],"w":1.3},{"c":1,"x":2011.5,"r":[4],"t":[0],"w":1.3},{"c":1,"x":2012,"r":[9,5,2],"t":[2006.5,2005.2,2004]},{"c":1,"x":2013,"r":[22,16,10,4],"t":[2011,2009,2006.5,2004]},
{"c":2,"x":2002,"r":[24,18,11,5],"t":[2004,2001.5,2000.5,1999]},{"c":2,"x":2001.6,"r":[6],"t":[0],"w":1.3},{"c":2,"x":2003,"r":[13,9,5],"t":[2004.3,2003.5,2002.5]},{"c":2,"x":2003.5,"r":[3,1],"t":[2003,2002]},{"c":2,"x":2004,"r":[20,17,8],"t":[2002,2005.5,2002]},{"c":2,"x":2003.75,"r":[8],"t":[0],"w":1.3},
{"c":2,"x":2005,"r":[40,34,24,16,8],"t":[2005.6,2005.3,2003.5,2001.5,1999.5]},{"c":2,"x":2004.65,"r":[17],"t":[0],"w":1.8},{"c":2,"x":2004.45,"r":[9,6,3],"t":[0,0,0],"w":1.2},
{"c":2,"x":2006,"r":[32,24,14,6],"t":[2006.5,2006,2005,2003.5]},{"c":2,"x":2005.35,"r":[6],"t":[0],"w":4},{"c":2,"x":2005.35,"r":[2.5],"t":[2001.5]},
{"c":2,"x":2007,"r":[50,40,28,14],"t":[2008.2,2007.3,2006.2,2005]},{"c":2,"x":2006.5,"r":[5,2],"t":[0,0],"w":1},
{"c":2,"x":2008,"r":[67,55,40,26,13],"t":[2008.8,2008.2,2006.8,2005.8,2003.7]},{"c":2,"x":2007.9,"r":[50],"t":[0],"w":1.4},{"c":2,"x":2007.48,"r":[4],"t":[0],"w":5},{"c":2,"x":2007.48,"r":[1.5],"t":[2000]},
{"c":2,"x":2009,"r":[36,30,20,10],"t":[2010,2009,2006.8,2005.7]},{"c":2,"x":2008.65,"r":[20],"t":[0],"w":1.3},{"c":2,"x":2008.45,"r":[4],"t":[0],"w":1.5},
{"c":2,"x":2010,"r":[30,24,14,3],"t":[2012.8,2010.5,2009,2005]},{"c":2,"x":2009.73,"r":[20,15],"t":[0,0],"w":1.2},{"c":2,"x":2009.47,"r":[4],"t":[0],"w":2},
{"c":2,"x":2010.95,"r":[15,11,7],"t":[2010.7,2009,2006.5]},{"c":2,"x":2010.55,"r":[10,7,4],"t":[0,0,0],"w":1.3},
{"c":2,"x":2012,"r":[31,25,17,8],"t":[2012.8,2011,2009,2007.5]},{"c":2,"x":2011.75,"r":[24],"t":[0],"w":1.2},{"c":2,"x":2011.5,"r":[11,8,6,4],"t":[0,0,0,0],"w":1},{"c":2,"x":2012.45,"r":[4],"t":[0],"w":1.3},
{"c":2,"x":2013,"r":[3,1],"t":[2008,2006]},{"c":2,"x":2013.5,"r":[3,1],"t":[2008,2006]},{"c":2,"x":2014,"r":[13,8,3],"t":[2012.5,2010.5,2008]},{"c":2,"x":2015,"r":[1.5],"t":[2007]},
{"c":3,"x":1995,"r":[2],"t":[1999]},{"c":3,"x":1995.1,"r":[2],"t":[1999]},{"c":3,"x":1998,"r":[5,3],"t":[1999.5,1998]},{"c":3,"x":1998.7,"r":[5,3],"t":[0,0],"w":1.2},{"c":3,"x":1999,"r":[15,11,7],"t":[2001,1998,1996.5]},{"c":3,"x":1999.8,"r":[4],"t":[1999]},{"c":3,"x":2000,"r":[4],"t":[1999.5]},
{"c":3,"x":2001,"r":[15,11,6],"t":[2002.3,2001,2000.5]},{"c":3,"x":2000.6,"r":[9,5],"t":[0,0],"w":1.3},{"c":3,"x":2001.6,"r":[3],"t":[0],"w":1.3},{"c":3,"x":2002,"r":[8,5],"t":[2001.5,2000]},{"c":3,"x":2001.8,"r":[4],"t":[0],"w":1.2},{"c":3,"x":2003,"r":[4,2],"t":[2000,2000]},{"c":3,"x":2003.55,"r":[4],"t":[0],"w":1.3},
{"c":3,"x":2004,"r":[16.5,12,8,4],"t":[2004.8,2004,2003,2002]},{"c":3,"x":2004.8,"r":[3],"t":[2000]},{"c":3,"x":2005,"r":[3],"t":[2000]},{"c":3,"x":2007,"r":[10,6,3],"t":[2006,2005,2002]},{"c":3,"x":2011,"r":[10,6,3],"t":[2006.5,2005.8,2004]},
{"c":4,"x":1995.9,"r":[3.5],"t":[1999]},{"c":4,"x":1997,"r":[3.5],"t":[1999]},{"c":4,"x":1997.8,"r":[3.5],"t":[1999.5]},{"c":4,"x":1998,"r":[5,3],"t":[2000,1998]},{"c":4,"x":1998.75,"r":[4],"t":[1998]},{"c":4,"x":1999,"r":[13,9,5],"t":[2001,1997.5,1996]},{"c":4,"x":2000,"r":[18,13,8],"t":[2000.5,1998.5,1997]},{"c":4,"x":2001,"r":[10,6],"t":[2001,1998]},{"c":4,"x":2002,"r":[5,3],"t":[2001.5,2000]},{"c":4,"x":2003,"r":[9,6,3],"t":[2001.5,1999,2000.5]},{"c":4,"x":2003.6,"r":[3],"t":[0],"w":1.2},{"c":4,"x":2004,"r":[7,4],"t":[2001.5,2000.5]},{"c":4,"x":2004.8,"r":[3],"t":[2003]},{"c":4,"x":2005,"r":[3],"t":[2002]},{"c":4,"x":2006,"r":[1.5],"t":[2000]},
{"c":5,"x":1990.5,"r":[1],"t":[1997]},{"c":5,"x":1993,"r":[4,2],"t":[1994,1992]},{"c":5,"x":1995,"r":[12,7,3],"t":[1997,1995,1994]},{"c":5,"x":1996,"r":[12,8,3],"t":[1999.5,1996,1995]},{"c":5,"x":1995.75,"r":[6,3],"t":[0,0],"w":1.2},{"c":5,"x":1997,"r":[3.5],"t":[1998]},{"c":5,"x":1998,"r":[15,11,6,3],"t":[2000.8,1999,1997,1995]},{"c":5,"x":1997.65,"r":[6,3],"t":[0,0],"w":1.2},{"c":5,"x":2000,"r":[3],"t":[1997]},{"c":5,"x":2002,"r":[1.5],"t":[1997]},
{"c":6,"x":1997,"r":[3],"t":[1999.5]},{"c":6,"x":1998,"r":[4],"t":[1999.5]},{"c":6,"x":1999,"r":[4],"t":[2000.5]},{"c":6,"x":2000,"r":[9,6,3],"t":[2001,2000,2001]},{"c":6,"x":2000.85,"r":[5],"t":[2000]},{"c":6,"x":2001,"r":[8,4],"t":[2001.5,2001]},{"c":6,"x":2000.7,"r":[6],"t":[0],"w":1.2},{"c":6,"x":2002,"r":[3],"t":[2000.5]},
{"c":6,"x":2003,"r":[20,16,12,8,4],"t":[2004.5,2003.7,2002.5,2001,2000]},{"c":6,"x":2002.5,"r":[3],"t":[0],"w":1.2},
{"c":7,"x":1995.98,"r":[3],"t":[1997]},{"c":7,"x":1993.9,"r":[3],"t":[0],"w":1},{"c":7,"x":1994,"r":[3],"t":[0],"w":1},{"c":7,"x":1997,"r":[2.5],"t":[1996]},{"c":7,"x":1996.55,"r":[2],"t":[1996]},{"c":7,"x":1999,"r":[2],"t":[1996]},{"c":7,"x":2000,"r":[2],"t":[1996]},
{"c":8,"x":1996.62,"r":[2],"t":[1995]},{"c":8,"x":1997,"r":[2.5],"t":[1995]},{"c":8,"x":1998,"r":[2],"t":[1995]},
{"c":9,"x":2009,"r":[10,7,4],"t":[2006.5,2006.2,2007]},{"c":9,"x":2011,"r":[8,5],"t":[2012,2011]},{"c":9,"x":2013,"r":[18,13,8,3],"t":[2012,2010,2008,2009]},{"c":9,"x":2014,"r":[10,6,3],"t":[2012.7,2010.5,2008]},{"c":9,"x":2013.7,"r":[6,3],"t":[2012,2011]},{"c":9,"x":2016,"r":[6,3,1],"t":[2012,2010.5,2011]},{"c":9,"x":2017,"r":[2],"t":[2012]},
{"c":10,"x":2004,"r":[1.5],"t":[2003]},{"c":10,"x":2007,"r":[1.5],"t":[2003]}],
"labels":[
{"x":2004.89,"c":0.41,"s":10,"k":"a","label":"LEY RE (2005)"},{"x":2005.93,"c":0.37,"s":16,"k":"a","label":"LEY RE (2006)"},{"x":2005.97,"c":0.55,"s":14.7,"k":"a","label":"TURNBAUGH PJ (2006)"},{"x":2008.63,"c":0.29,"s":10.9,"k":"a","label":"SCHLOSS PD (2009)"},{"x":2009.66,"c":0.18,"s":13,"k":"a","label":"DE FC (2010)"},{"x":2010.66,"c":0.165,"s":11,"k":"a","label":"SEGATA N (2011)"},{"x":2012.43,"c":0.18,"s":11.3,"k":"a","label":"HOWER C (2012)"},{"x":2013.83,"c":0.15,"s":10.3,"k":"a","label":"KOSTIC AD (2014)"},{"x":2010.66,"c":0.34,"s":11.5,"k":"a","label":"WU GD (2011)"},{"x":2011.56,"c":0.34,"s":13,"k":"a","label":"YATSUNENKO T (2012)"},{"x":2012.82,"c":0.315,"s":10.5,"k":"a","label":"LE CE (2013)"},{"x":2014.03,"c":0.34,"s":12.2,"k":"a","label":"DAVID LA (2014)"},{"x":2011.78,"c":0.51,"s":12,"k":"a","label":"MORGAN XC (2012)"},{"x":2013.98,"c":0.51,"s":13.5,"k":"a","label":"EVERS D (2014)"},{"x":2010.05,"c":0.47,"s":21,"k":"a","label":"QIN JJ (2010)"},{"x":2009.08,"c":0.66,"s":18.5,"k":"a","label":"TURNBAUGH PJ (2009)"},{"x":2010.91,"c":0.62,"s":17,"k":"a","label":"ARUMUGAM M (2011)"},{"x":2013.72,"c":0.56,"s":12.5,"k":"a","label":"WOOD L (2013)"},{"x":2009.96,"c":0.74,"s":20.6,"k":"a","label":"CAPORASO JG (2010)"},
{"x":2002.99,"c":1.5,"s":13.4,"k":"b","label":"PIMENTEL M (2003)"},{"x":2003.83,"c":1.39,"s":11,"k":"b","label":"LIN HC (2004)"},{"x":2004.7,"c":1.39,"s":11,"k":"b","label":"O'MAHONY L (2005)"},{"x":2005.97,"c":1.485,"s":12,"k":"b","label":"LONGSTRETH GF (2006)"},{"x":2006.94,"c":1.33,"s":13.5,"k":"b","label":"POSSERUD I (2007)"},{"x":2006.98,"c":1.54,"s":14.8,"k":"b","label":"KASSINEN A (2007)"},{"x":2010.95,"c":1.5,"s":13.3,"k":"b","label":"PIMENTEL M (2011)"},{"x":2012.95,"c":1.46,"s":11.5,"k":"b","label":"SIMREN M (2013)"},
{"x":2002,"c":2.49,"s":13.2,"k":"b","label":"SWIDSINSKI A (2002)"},{"x":2003.98,"c":2.39,"s":11.2,"k":"b","label":"SARTOR RB (2004)"},{"x":2004.67,"c":2.26,"s":10.5,"k":"b","label":"BACKHED F (2005)"},{"x":2004.85,"c":2.59,"s":14.6,"k":"b","label":"ECKBURG PB (2005)"},{"x":2006.05,"c":2.49,"s":13,"k":"b","label":"MANICHANH C (2006)"},{"x":2006.92,"c":2.64,"s":16.5,"k":"b","label":"FRANK DN (2007)"},{"x":2007.8,"c":2.38,"s":18,"k":"b","label":"SARTOR RB (2008)"},{"x":2007.98,"c":2.72,"s":20.4,"k":"b","label":"SOKOL H (2008)"},{"x":2008.95,"c":2.545,"s":15,"k":"b","label":"SOKOL H (2009)"},{"x":2008.69,"c":2.26,"s":10.8,"k":"b","label":"ROUND JL (2009)"},{"x":2009.94,"c":2.26,"s":10.8,"k":"b","label":"IVANOV I (2010)"},{"x":2009.96,"c":2.49,"s":13,"k":"b","label":"WILLING BP (2010)"},{"x":2011.95,"c":2.49,"s":13.8,"k":"b","label":"JOSTINS L (2012)"},
{"x":1999.01,"c":3.39,"s":10.6,"k":"d","label":"MADSEN KL (1999)"},{"x":2001,"c":3.39,"s":11,"k":"d","label":"HUGOT JP (2001)"},{"x":2004,"c":3.39,"s":11,"k":"d","label":"RAKOFF-NAHOUM S (2004)"},{"x":2000,"c":4.39,"s":10.8,"k":"d","label":"GIONCHETTI P (2000)"},{"x":1998.02,"c":5.38,"s":11.4,"k":"d","label":"SELLON RK (1998)"},{"x":2002.99,"c":6.42,"s":12,"k":"d","label":"GUARNER F (2003)"},{"x":2012.95,"c":9.37,"s":10.2,"k":"e","label":"ZHU LX (2013)"}],
"years":[{"x":1990.5,"c":-1.925,"label":"1990"},{"x":1992.06,"c":-1.935,"label":"1992"},{"x":1995.06,"c":-1.915,"label":"1995"},{"x":1997.97,"c":-1.925,"label":"1998"},{"x":2001.04,"c":-1.925,"label":"2001"},{"x":2004,"c":-1.915,"label":"2004"},{"x":2007.09,"c":-1.935,"label":"2007"},{"x":2009.99,"c":-1.935,"label":"2010"},{"x":2012.95,"c":-1.925,"label":"2013"},{"x":2016.01,"c":-1.935,"label":"2016"},{"x":2017.35,"c":-1.935,"label":"2017"}],
"names":[{"x":2017.59,"c":0,"label":"#0 obesity"},{"x":2017.59,"c":0.982,"label":"#1 irritable bowel syndrome"},{"x":2017.59,"c":1.964,"label":"#2 Faecalibacterium prausnitzii"},{"x":2017.59,"c":2.946,"label":"#3 innate immunity"},{"x":2017.59,"c":3.928,"label":"#4 probiotics"},{"x":2017.59,"c":4.91,"label":"#5 IBD aetiology"},{"x":2017.59,"c":5.892,"label":"#6 food allergy"},{"x":2017.59,"c":6.874,"label":"#7 experimental colitis"},{"x":2017.59,"c":7.856,"label":"#8 lactosucrose"},{"x":2017.59,"c":8.838,"label":"#9 cirrhosis"},{"x":2017.59,"c":9.82,"label":"#10 enterochromafin"}]
},
"encoding":{"x":{"field":"x","type":"quantitative","axis":null,"scale":{"domain":[1989.965,2028.237],"nice":false,"zero":false}},"y":{"field":"c","type":"quantitative","axis":null,"scale":{"domain":[-2.093,10.041],"reverse":true,"nice":false,"zero":false}}},
"layer":[
{"data":{"name":"lanes"},"mark":{"type":"rule","strokeWidth":1.5,"strokeDash":[6,5]},"encoding":{"x2":{"field":"x2"},"color":{"field":"c","type":"nominal","legend":null,"scale":{"domain":[0,1,2,3,4,5,6,7,8,9,10],"range":["#ffd9b8","#ffbccb","#ffd0b0","#ff90e0","#f080e8","#c060f0","#ff80e8","#b878e0","#a888d8","#ffe4b0","#ffa8d8"]}}}},
{"data":{"name":"arcs"},"transform":[{"flatten":["x","c"]}],"mark":{"type":"line","interpolate":"natural","strokeWidth":1.2,"clip":true},"encoding":{"detail":{"field":"a"},"stroke":{"field":"t","type":"quantitative","legend":null,"scale":{"domain":[1990,1994,1997,1999,2001,2002,2003,2004,2005,2006,2008,2010,2012,2014],"range":["#4a10a8","#7a10d0","#a010e0","#c000d8","#e800c0","#f020a0","#f04088","#f86070","#ff8050","#ff9a20","#ffb400","#ffdc00","#ffff30","#e0ff20"],"clamp":true}},"opacity":{"field":"w","type":"quantitative","scale":null}}},
{"data":{"name":"segs"},"mark":{"type":"rule","strokeWidth":4},"encoding":{"x2":{"field":"x2"},"color":{"field":"c","type":"nominal","legend":null,"scale":{"domain":[0,1,2,3,4,5,6,7,8,9,10],"range":["#ffe600","#ff7080","#ffa838","#ff00ff","#e000f0","#a000e0","#f400f0","#9c00d8","#7a00c8","#ffff00","#f040b0"]}}}},
{"data":{"name":"nodes"},"transform":[{"flatten":["r","t"]}],"mark":{"type":"circle"},"encoding":{"size":{"field":"r","type":"quantitative","legend":null,"scale":{"type":"pow","exponent":2,"domain":[0,100],"range":[0,40000]}},"fill":{"field":"t","type":"quantitative","legend":null,"scale":{"domain":[1990,1994,1997,1999,2001,2002,2003,2004,2005,2006,2008,2010,2012,2014],"range":["#5a10b8","#7a00d8","#9010d8","#c000d0","#e800b8","#f020a0","#f04088","#f86070","#ff8050","#ff9a20","#ffb400","#ffdc00","#ffff00","#d8ff20"],"clamp":true}},"fillOpacity":{"condition":{"test":"datum.w>0","value":0},"value":1},"stroke":{"condition":{"test":"datum.w>0","value":"#ffffff"},"value":"transparent"},"strokeWidth":{"condition":{"test":"datum.w>0","field":"w","type":"quantitative","scale":null},"value":0}}},
{"data":{"name":"labels"},"mark":{"type":"text","font":"Noto Sans","align":"center","baseline":"middle","opacity":0.92},"encoding":{"text":{"field":"label"},"size":{"field":"s","type":"quantitative","scale":null},"color":{"field":"k","type":"nominal","legend":null,"scale":{"domain":["a","b","d","e"],"range":["#8d6a22","#864a38","#6a1f68","#a58838"]}}}},
{"data":{"name":"years"},"mark":{"type":"text","font":"DejaVu Sans","fontSize":19,"align":"center","baseline":"middle","color":"#ff00ff","stroke":"#ff00ff","strokeWidth":0.6},"encoding":{"text":{"field":"label"}}},
{"data":{"name":"names"},"mark":{"type":"text","font":"Liberation Sans","fontWeight":"bold","fontSize":33,"align":"left","baseline":"middle","color":"#0b1f66"},"encoding":{"text":{"field":"label"}}}
],
"resolve":{"scale":{"color":"independent","stroke":"independent","fill":"independent","size":"independent"}}}
